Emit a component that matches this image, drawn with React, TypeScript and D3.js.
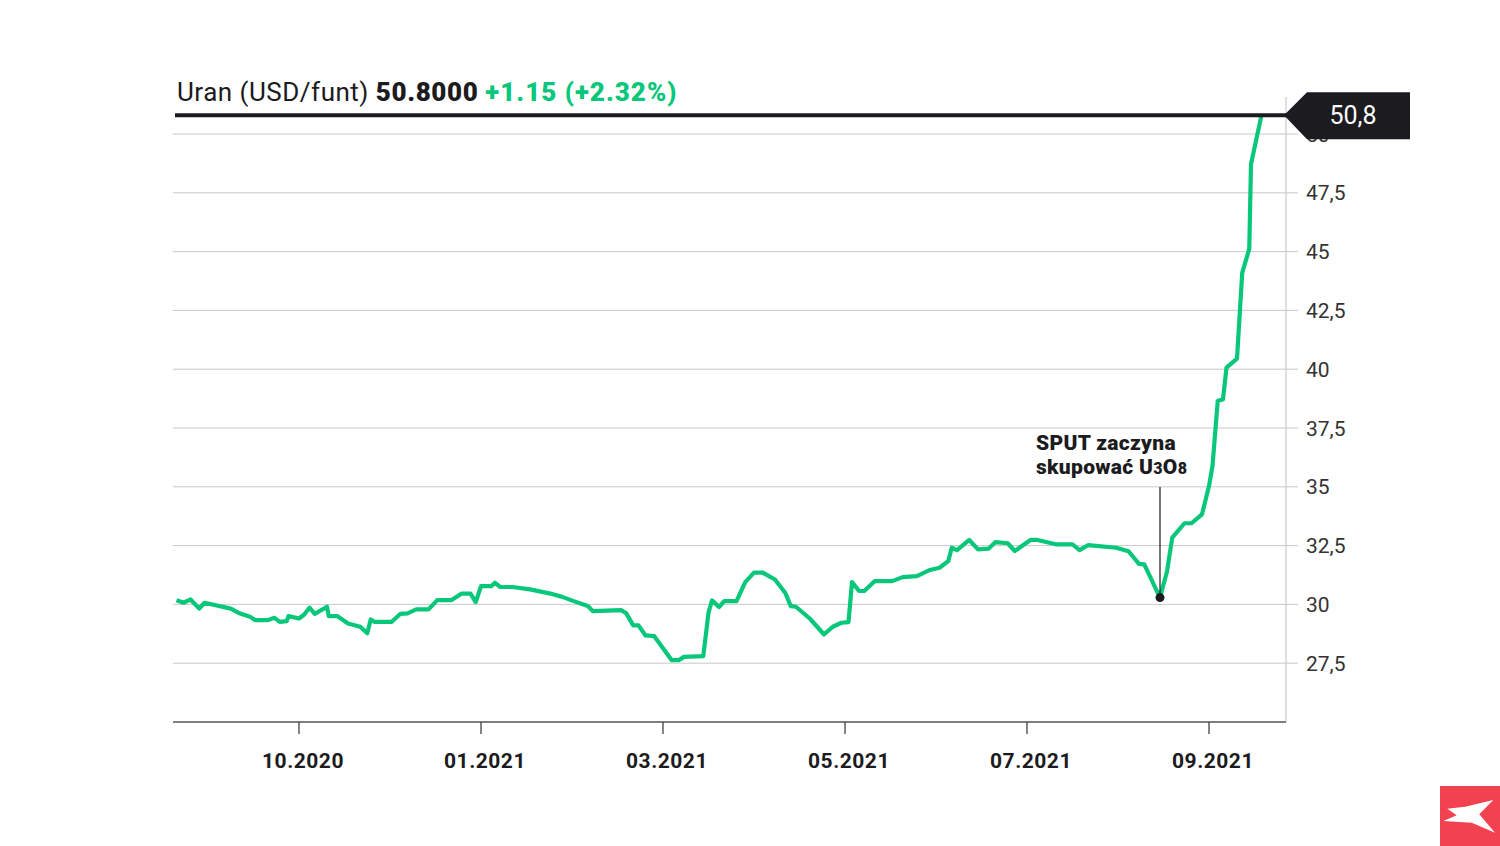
import React from 'react';
import * as d3 from 'd3';

// session index (tick every 104 sessions) and price in USD per pound
const sessions = [
  2, 6, 10, 15, 18, 33, 38, 44, 47, 54, 58, 61, 65, 66, 72, 75, 78, 81, 88, 89,
  94, 100, 107, 111, 113, 115, 125, 130, 134, 139, 146, 151, 159, 165, 170, 173, 176, 182, 184, 187,
  194, 204, 215, 222, 229, 237, 240, 256, 259, 263, 266, 270, 275, 285, 289, 292, 303, 306, 308, 312,
  315, 322, 327, 332, 337, 344, 350, 353, 356, 364, 372, 377, 382, 386, 388, 392, 395, 401, 411, 417,
  425, 432, 438, 443, 445, 448, 455, 460, 466, 470, 477, 481, 490, 494, 505, 514, 518, 523, 539, 546,
  552, 555, 564, 568, 571, 578, 582, 588, 592, 594, 597, 600, 602, 608, 611, 615, 616, 622,
];
const prices = [
  30.18, 30.07, 30.21, 29.82, 30.07, 29.82, 29.62, 29.48, 29.33, 29.33, 29.43, 29.26, 29.29, 29.5, 29.4, 29.57, 29.86, 29.6, 29.9, 29.5,
  29.5, 29.19, 29.05, 28.77, 29.36, 29.26, 29.26, 29.6, 29.62, 29.79, 29.79, 30.18, 30.18, 30.46, 30.46, 30.1, 30.78, 30.78, 30.92, 30.74,
  30.74, 30.64, 30.47, 30.33, 30.14, 29.93, 29.71, 29.76, 29.62, 29.11, 29.11, 28.68, 28.65, 27.63, 27.63, 27.77, 27.8, 29.65, 30.17, 29.89,
  30.14, 30.14, 30.95, 31.35, 31.35, 31.06, 30.47, 29.93, 29.9, 29.39, 28.72, 29.05, 29.22, 29.25, 30.95, 30.57, 30.57, 30.99, 30.99, 31.16,
  31.2, 31.45, 31.56, 31.84, 32.41, 32.31, 32.74, 32.34, 32.37, 32.65, 32.6, 32.27, 32.74, 32.74, 32.55, 32.55, 32.31, 32.52, 32.41, 32.26,
  31.72, 31.7, 30.29, 31.4, 32.84, 33.45, 33.45, 33.83, 35.03, 35.89, 38.65, 38.72, 40.07, 40.45, 44.11, 45.11, 48.72, 50.8,
];

const xTickSessions = [72, 176, 280, 384, 488, 592];
const xTickLabels = ['10.2020', '01.2021', '03.2021', '05.2021', '07.2021', '09.2021'];
const yTicks = [27.5, 30, 32.5, 35, 37.5, 40, 42.5, 45, 47.5, 50];

const lastPrice = 50.8;
const annotationSession = 564;

const GREEN = '#08c77a';
const DARK = '#1b1b20';
const GRID = '#c9c9c9';
const FONT = 'Roboto, "Noto Sans", sans-serif';

export default function App() {
  const width = 1500;
  const height = 846;
  const left = 173;
  const right = 1286;
  const bottom = 722;

  const x = d3.scaleLinear().domain([0, 636]).range([left, right]);
  const y = d3.scaleLinear().domain([25, 50]).range([bottom, 134]);

  const points: [number, number][] = sessions.map((s, i) => [s, prices[i]]);
  const line = d3
    .line<[number, number]>()
    .x((d) => x(d[0]))
    .y((d) => y(d[1]));

  const annIdx = sessions.indexOf(annotationSession);
  const annX = x(annotationSession);
  const annY = y(prices[annIdx]);

  const yLast = y(lastPrice);
  const fmt = (v: number) => String(v).replace('.', ',');

  return (
    <svg
      width={width}
      height={height}
      style={{ position: 'absolute', left: 0, top: 0, background: '#fff' }}
      fontFamily={FONT}
    >
      {/* grid */}
      {yTicks.map((t) => (
        <g key={t}>
          <line x1={left} x2={right + 12} y1={y(t)} y2={y(t)} stroke={GRID} strokeWidth={1} />
          <text x={1306} y={y(t)} dy="0.36em" fontSize={21} fill="#333">
            {fmt(t)}
          </text>
        </g>
      ))}
      <line x1={right} x2={right} y1={97} y2={bottom} stroke={GRID} strokeWidth={1.2} />

      {/* x axis */}
      <line x1={left} x2={right} y1={bottom} y2={bottom} stroke="#555" strokeWidth={1.5} />
      {xTickSessions.map((s, i) => (
        <g key={s}>
          <line x1={x(s)} x2={x(s)} y1={bottom} y2={bottom + 12} stroke="#333" strokeWidth={1.2} />
          <text x={x(s) + 4} y={768} textAnchor="middle" fontSize={21} fontWeight={700} letterSpacing={0.5} fill={DARK}>
            {xTickLabels[i]}
          </text>
        </g>
      ))}

      {/* price line */}
      <path d={line(points) || ''} fill="none" stroke={GREEN} strokeWidth={4.2} strokeLinejoin="round" />

      {/* annotation */}
      <line x1={annX} x2={annX} y1={487} y2={annY} stroke={DARK} strokeWidth={1.2} />
      <circle cx={annX} cy={annY} r={4.5} fill={DARK} />
      <text x={1036} y={450} fontSize={21} fontWeight={900} letterSpacing={0.3} fill={DARK}>
        SPUT zaczyna
      </text>
      <text x={1036} y={474} fontSize={21} fontWeight={900} letterSpacing={0.3} fill={DARK}>
        skupować U<tspan fontSize={16}>3</tspan>O<tspan fontSize={16}>8</tspan>
      </text>

      {/* current price */}
      <line x1={175} x2={1292} y1={yLast} y2={yLast} stroke={DARK} strokeWidth={4} />
      <path
        d={`M${1284},${yLast} L${1307},${yLast - 23} L${1410},${yLast - 23} L${1410},${yLast + 24} L${1307},${yLast + 24} Z`}
        fill={DARK}
      />
      <text x={1353} y={yLast} dy="0.36em" textAnchor="middle" fontSize={25} fill="#fff">
        {fmt(lastPrice)}
      </text>

      {/* title */}
      <text x={177} y={101} fontSize={26} fill={DARK} letterSpacing={0.5}>
        Uran (USD/funt) <tspan fontWeight={900} letterSpacing={0.6}>50.8000</tspan>{' '}
        <tspan fontWeight={900} fill={GREEN} letterSpacing={1}>+1.15 (+2.32%)</tspan>
      </text>

      {/* logo */}
      <g transform="translate(1440,786)">
        <rect width={60} height={60} fill="#f2414f" />
        <path
          d="M7.3,22.7 L25,20.7 L53.3,14 L39.3,28.3 L55,46.7 L31.7,36.7 L3.3,35 L16.7,29.3 Z"
          fill="#fff"
        />
      </g>
    </svg>
  );
}
